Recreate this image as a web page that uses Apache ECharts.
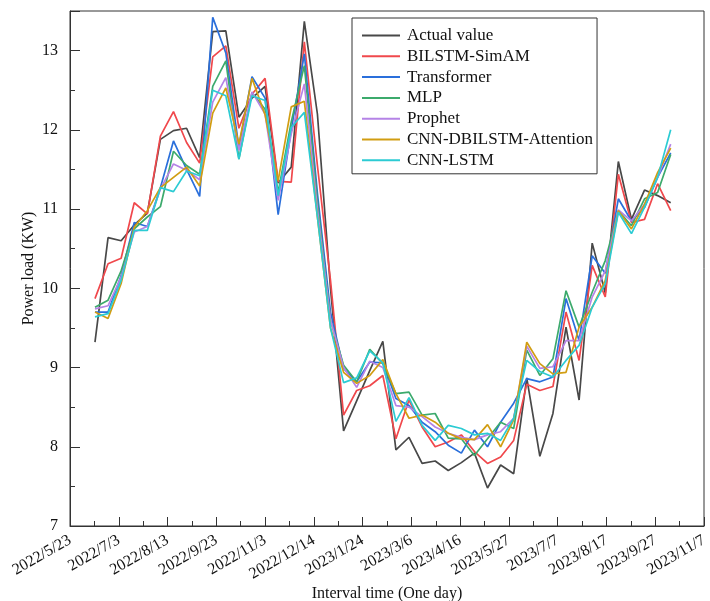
<!DOCTYPE html>
<html>
<head>
<meta charset="utf-8">
<script src="https://cdn.jsdelivr.net/npm/echarts@6/dist/echarts.min.js"></script>
<style>
html,body{margin:0;padding:0;background:#fff;}
#chart{width:710px;height:601px;}
</style>
</head>
<body>
<div id="chart"></div>
<script>
// Axis origin date and tick step (days)
const axisStart = '2022-05-23';
const axisEnd = '2023-11-07';
const tickStepDays = 41;

// Sample dates
const dates = [
  '2022-06-13','2022-06-24','2022-07-05','2022-07-16','2022-07-27','2022-08-07','2022-08-18','2022-08-29',
  '2022-09-09','2022-09-20','2022-10-01','2022-10-12','2022-10-23','2022-11-03','2022-11-14','2022-11-25',
  '2022-12-06','2022-12-17','2022-12-28','2023-01-08','2023-01-19','2023-01-30','2023-02-10','2023-02-21',
  '2023-03-04','2023-03-15','2023-03-26','2023-04-06','2023-04-17','2023-04-28','2023-05-09','2023-05-20',
  '2023-05-31','2023-06-11','2023-06-22','2023-07-03','2023-07-14','2023-07-25','2023-08-05','2023-08-16',
  '2023-08-27','2023-09-07','2023-09-18','2023-09-29','2023-10-10'
];

const actualValue = [9.32,10.64,10.60,10.80,10.95,11.88,11.99,12.02,11.65,13.24,13.25,12.16,12.40,12.55,11.33,11.53,
  13.37,12.20,10.00,8.20,8.58,8.96,9.33,7.96,8.12,7.79,7.82,7.70,7.80,7.92,7.48,7.77,7.66,8.87,7.88,8.42,9.51,8.59,
  10.57,9.94,11.60,10.87,11.24,11.17,11.08];
const bilstmSimAM = [9.87,10.31,10.38,11.08,10.94,11.92,12.23,11.84,11.58,12.92,13.06,12.02,12.45,12.65,11.35,11.34,
  13.11,11.55,10.10,8.40,8.71,8.77,8.90,8.10,8.59,8.25,8.00,8.06,8.15,7.94,7.79,7.87,8.08,8.79,8.71,8.76,9.70,9.09,
  10.29,9.89,11.44,10.83,10.87,11.32,10.98];
const transformer = [9.70,9.70,10.16,10.83,10.78,11.27,11.86,11.50,11.16,13.42,12.97,11.78,12.67,12.40,10.93,12.00,
  12.96,11.20,9.70,8.99,8.82,9.07,9.06,8.61,8.52,8.31,8.19,8.02,7.92,8.21,8.00,8.31,8.55,8.86,8.82,8.88,9.87,9.34,
  10.41,10.19,11.13,10.85,11.02,11.40,11.71];
const mlp = [9.76,9.85,10.22,10.75,10.90,11.03,11.73,11.55,11.44,12.55,12.87,11.63,12.47,12.26,11.21,12.10,
  12.81,11.10,9.60,9.03,8.82,9.23,9.05,8.67,8.69,8.40,8.42,8.11,8.10,7.89,8.10,8.31,8.23,9.22,8.90,9.11,9.97,9.51,
  9.95,10.35,10.98,10.79,11.13,11.21,11.69];
const prophet = [9.74,9.78,10.14,10.71,10.78,11.25,11.57,11.49,11.37,12.35,12.66,11.74,12.48,12.20,11.11,11.95,
  12.58,11.00,9.60,9.00,8.75,9.08,9.00,8.52,8.50,8.38,8.25,8.17,8.12,8.09,8.15,8.19,8.36,9.27,8.99,9.01,9.34,9.34,
  9.89,10.22,10.99,10.85,11.06,11.40,11.82];
const cnnDbilstmAtt = [9.70,9.62,10.06,10.77,10.98,11.27,11.40,11.53,11.29,12.21,12.53,11.82,12.65,12.19,11.36,12.29,
  12.36,10.90,9.50,8.94,8.80,8.90,9.10,8.67,8.36,8.40,8.31,8.17,8.10,8.09,8.28,8.00,8.34,9.32,9.05,8.92,8.94,9.51,
  9.76,10.10,10.98,10.75,11.06,11.46,11.77];
const cnnLstm = [9.64,9.68,10.10,10.73,10.73,11.27,11.22,11.48,11.42,12.50,12.43,11.63,12.43,12.37,11.17,12.03,
  12.22,10.90,9.50,8.81,8.87,9.21,9.06,8.32,8.62,8.27,8.08,8.27,8.23,8.15,8.17,8.08,8.36,9.09,8.95,8.88,9.09,9.28,
  9.76,10.06,10.96,10.69,11.02,11.40,12.00];

const seriesNames = ['Actual value','BILSTM-SimAM','Transformer','MLP','Prophet','CNN-DBILSTM-Attention','CNN-LSTM'];
const seriesValues = [actualValue, bilstmSimAM, transformer, mlp, prophet, cnnDbilstmAtt, cnnLstm];
const seriesColors = ['#484848','#f0484c','#2a6fdb','#3caa6c','#b583e6','#d19d12','#2ccbd3'];

const DAY = 86400000;
function toUTC(s){ const p = s.split('-').map(Number); return Date.UTC(p[0], p[1]-1, p[2]); }
const t0 = toUTC(axisStart);
const spanDays = Math.round((toUTC(axisEnd) - t0) / DAY);
const xDays = dates.map(d => Math.round((toUTC(d) - t0) / DAY));
function dayLabel(v){
  const d = new Date(t0 + Math.round(v) * DAY);
  return d.getUTCFullYear() + '/' + (d.getUTCMonth()+1) + '/' + d.getUTCDate();
}

const FONT = '"Liberation Serif", "Times New Roman", serif';
const chart = echarts.init(document.getElementById('chart'), null, {renderer:'canvas'});
chart.setOption({
  animation: false,
  backgroundColor: '#fff',
  grid: { left: 70, right: 6, top: 11, bottom: 75, show: true, borderColor: '#333', borderWidth: 1,
          containLabel: false, outerBoundsMode: 'none' },
  legend: {
    orient: 'vertical', left: 352, top: 18,
    icon: 'rect', itemWidth: 38, itemHeight: 2, itemGap: 3.8,
    padding: [9, 4, 5, 10],
    borderColor: '#333', borderWidth: 1,
    textStyle: { fontFamily: FONT, fontSize: 17, color: '#111', lineHeight: 16, padding: [0, 0, 0, 2] },
    data: seriesNames
  },
  xAxis: {
    type: 'value', min: 0, max: spanDays, interval: tickStepDays,
    name: 'Interval time (One day)', nameLocation: 'middle', nameGap: 60, nameMoveOverlap: false,
    nameTextStyle: { fontFamily: FONT, fontSize: 16, color: '#111' },
    axisLine: { show: true, lineStyle: { color: '#333', width: 1 } },
    axisTick: { show: true, inside: true, length: 9, lineStyle: { color: '#333' } },
    minorTick: { show: true, splitNumber: 2, length: 5, lineStyle: { color: '#333' } },
    splitLine: { show: false },
    axisLabel: { rotate: 30, margin: 13, fontFamily: FONT, fontSize: 16, color: '#111', formatter: dayLabel }
  },
  yAxis: {
    type: 'value', min: 7, max: 13.5, interval: 1,
    name: 'Power load (KW)', nameLocation: 'middle', nameGap: 33, nameMoveOverlap: false,
    nameTextStyle: { fontFamily: FONT, fontSize: 16, color: '#111' },
    axisLine: { show: true, lineStyle: { color: '#333', width: 1 } },
    axisTick: { show: true, inside: true, length: 10, lineStyle: { color: '#333' } },
    minorTick: { show: true, splitNumber: 2, length: 5, lineStyle: { color: '#333' } },
    splitLine: { show: false },
    axisLabel: { margin: 12, fontFamily: FONT, fontSize: 16, color: '#111', showMaxLabel: false }
  },
  series: seriesNames.map((name, k) => ({
    name: name,
    type: 'line',
    symbol: 'none',
    showSymbol: false,
    data: xDays.map((x, i) => [x, seriesValues[k][i]]),
    lineStyle: { color: seriesColors[k], width: 1.7 },
    itemStyle: { color: seriesColors[k] }
  }))
});
</script>
</body>
</html>
